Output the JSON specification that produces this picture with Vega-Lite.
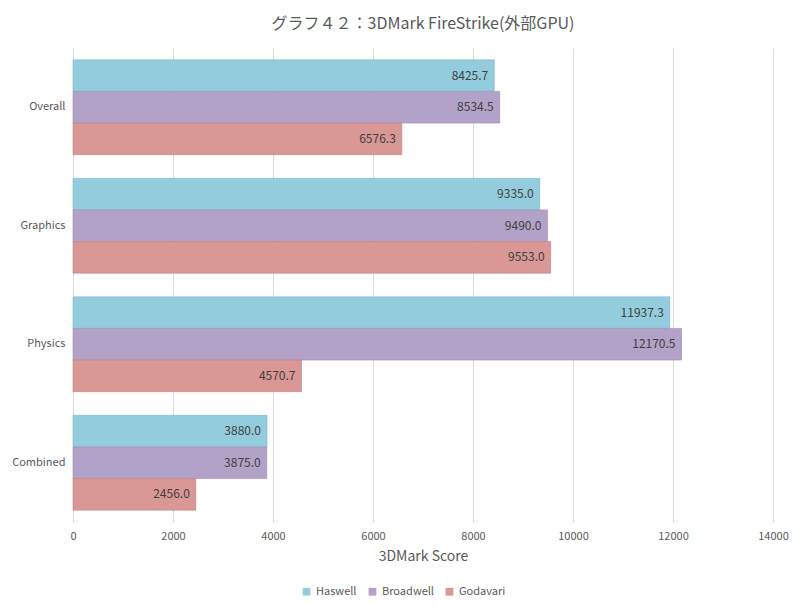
{
  "$schema": "https://vega.github.io/schema/vega-lite/v6.json",
  "width": 700,
  "height": 474,
  "autosize": {"type": "none"},
  "padding": {"left": 73, "top": 48, "right": 27, "bottom": 91},
  "background": "white",
  "title": {
    "text": "グラフ４２：3DMark FireStrike(外部GPU)",
    "font": "Noto Sans CJK JP",
    "fontSize": 16,
    "fontWeight": "normal",
    "color": "#595959",
    "anchor": "middle",
    "offset": 16
  },
  "config": {
    "view": {"stroke": null},
    "font": "Noto Sans CJK JP"
  },
  "data": {
    "values": [
      {"test": "Overall", "cpu": "Haswell", "score": 8425.7},
      {"test": "Overall", "cpu": "Broadwell", "score": 8534.5},
      {"test": "Overall", "cpu": "Godavari", "score": 6576.3},
      {"test": "Graphics", "cpu": "Haswell", "score": 9335.0},
      {"test": "Graphics", "cpu": "Broadwell", "score": 9490.0},
      {"test": "Graphics", "cpu": "Godavari", "score": 9553.0},
      {"test": "Physics", "cpu": "Haswell", "score": 11937.3},
      {"test": "Physics", "cpu": "Broadwell", "score": 12170.5},
      {"test": "Physics", "cpu": "Godavari", "score": 4570.7},
      {"test": "Combined", "cpu": "Haswell", "score": 3880.0},
      {"test": "Combined", "cpu": "Broadwell", "score": 3875.0},
      {"test": "Combined", "cpu": "Godavari", "score": 2456.0}
    ]
  },
  "encoding": {
    "y": {
      "field": "test",
      "type": "nominal",
      "sort": ["Overall", "Graphics", "Physics", "Combined"],
      "scale": {"paddingInner": 0.2, "paddingOuter": 0.1},
      "axis": {
        "title": null,
        "ticks": false,
        "domain": false,
        "labelFontSize": 11,
        "labelColor": "#595959",
        "labelPadding": 8
      }
    },
    "yOffset": {
      "field": "cpu",
      "type": "nominal",
      "sort": ["Haswell", "Broadwell", "Godavari"],
      "scale": {"paddingInner": 0, "paddingOuter": 0}
    },
    "x": {
      "field": "score",
      "type": "quantitative",
      "scale": {"domain": [0, 14000], "nice": false},
      "axis": {
        "title": "3DMark Score",
        "titleFontSize": 14,
        "titleFontWeight": "normal",
        "titleColor": "#595959",
        "titlePadding": 8,
        "values": [0, 2000, 4000, 6000, 8000, 10000, 12000, 14000],
        "format": "d",
        "labelFontSize": 11,
        "labelColor": "#595959",
        "labelPadding": 8,
        "labelFlush": false,
        "ticks": false,
        "domain": false,
        "grid": true,
        "gridColor": "#d9d9d9",
        "gridWidth": 1
      }
    }
  },
  "layer": [
    {
      "mark": {"type": "bar", "strokeWidth": 0.6},
      "encoding": {
        "color": {
          "field": "cpu",
          "type": "nominal",
          "sort": ["Haswell", "Broadwell", "Godavari"],
          "scale": {
            "domain": ["Haswell", "Broadwell", "Godavari"],
            "range": ["#93cddd", "#b3a2c7", "#d99795"]
          },
          "legend": {
            "title": null,
            "orient": "none",
            "legendX": 228,
            "legendY": 538,
            "direction": "horizontal",
            "symbolType": "square",
            "symbolSize": 60,
            "symbolStrokeWidth": 0,
            "labelFontSize": 11,
            "labelColor": "#595959",
            "columnPadding": 10
          }
        },
        "stroke": {
          "field": "cpu",
          "type": "nominal",
          "scale": {
            "domain": ["Haswell", "Broadwell", "Godavari"],
            "range": ["#7fb9c9", "#9e8db3", "#c5827f"]
          },
          "legend": null
        }
      }
    },
    {
      "mark": {"type": "text", "align": "right", "dx": -6, "fontSize": 12, "color": "#404040"},
      "encoding": {
        "text": {"field": "score", "type": "quantitative", "format": ".1f"}
      }
    }
  ]
}
